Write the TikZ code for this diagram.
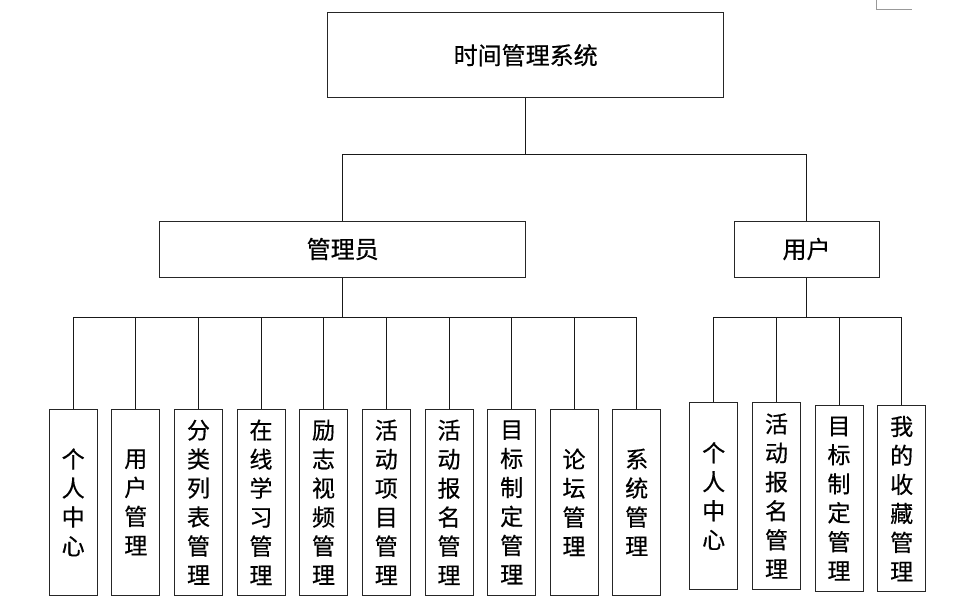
\documentclass[tikz,border=0pt]{standalone}
\usepackage{fontspec}
\newfontfamily\cjk[FakeBold=0.5]{Noto Sans CJK SC}
\begin{document}
\begin{tikzpicture}[x=1pt,y=-1pt,
  box/.style={draw=black!85, line width=1pt, inner sep=0pt, align=center,
    font=\cjk\fontsize{23}{29}\selectfont},
  topbox/.style={box, minimum width=396pt, minimum height=85pt,
    font=\cjk\fontsize{24}{29}\selectfont},
  midbox/.style={box, minimum width=366pt, minimum height=56pt,
    font=\cjk\fontsize{24}{29}\selectfont},
  ubox/.style={box, minimum width=145pt, minimum height=56pt,
    font=\cjk\fontsize{24}{29}\selectfont},
  leaf/.style={box, minimum width=48pt, minimum height=186pt},
  uleaf/.style={box, minimum width=48pt, minimum height=186.6pt},
  conn/.style={draw=black!90, line width=1pt}]
\useasboundingbox (0,0) rectangle (968,611);
\fill[white] (0,0) rectangle (968,611);

\node[topbox] (top) at (525.7,55.2) {时间管理系统};
\node[midbox] (admin) at (342.7,249) {管理员};
\node[ubox] (user) at (806.5,249) {用户};

\node[leaf] (a1) at (73.2,502.3) {个\\人\\中\\心};
\node[leaf] (a2) at (135.8,502.3) {用\\户\\管\\理};
\node[leaf] (a3) at (198.5,502.3) {分\\类\\列\\表\\管\\理};
\node[leaf] (a4) at (261,502.3) {在\\线\\学\\习\\管\\理};
\node[leaf] (a5) at (323.5,502.3) {励\\志\\视\\频\\管\\理};
\node[leaf] (a6) at (386.3,502.3) {活\\动\\项\\目\\管\\理};
\node[leaf] (a7) at (449,502.3) {活\\动\\报\\名\\管\\理};
\node[leaf] (a8) at (511.7,502.3) {目\\标\\制\\定\\管\\理};
\node[leaf] (a9) at (574,502.3) {论\\坛\\管\\理};
\node[leaf] (a10) at (636.7,502.3) {系\\统\\管\\理};

\node[uleaf] (u1) at (713.7,496) {个\\人\\中\\心};
\node[uleaf] (u2) at (776.5,496) {活\\动\\报\\名\\管\\理};
\node[uleaf] (u3) at (839,498.6) {目\\标\\制\\定\\管\\理};
\node[uleaf] (u4) at (901.7,498.6) {我\\的\\收\\藏\\管\\理};

\coordinate (j0) at (525.7,154.7);
\coordinate (ja) at (342.7,317);
\coordinate (ju) at (806.5,317.7);

\draw[conn] (top.south) -- (j0);
\draw[conn] (admin.north) |- (j0) -| (user.north);
\draw[conn] (admin.south) -- (ja);
\foreach \n in {a1,a2,a3,a4,a5,a6,a7,a8,a9,a10}
  \draw[conn] (ja) -| (\n.north);
\draw[conn] (user.south) -- (ju);
\foreach \n in {u1,u2,u3,u4}
  \draw[conn] (ju) -| (\n.north);

\coordinate (c1) at (876.5,0);
\coordinate (c2) at (876.5,9.3);
\coordinate (c3) at (912,9.3);
\draw[black!40, line width=0.8pt] (c1) -- (c2) -- (c3);
\end{tikzpicture}
\end{document}
